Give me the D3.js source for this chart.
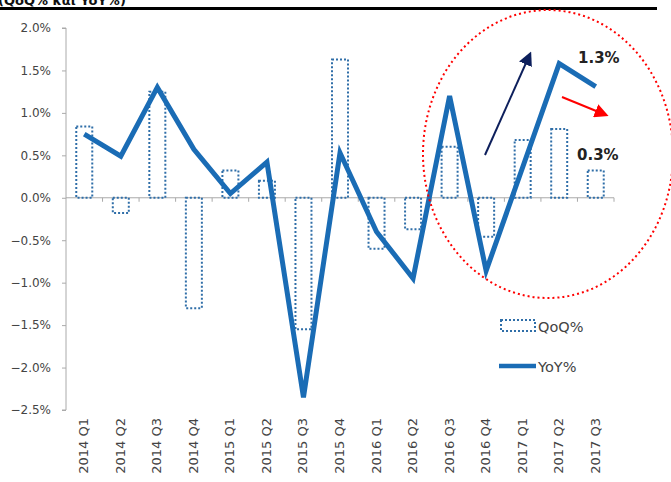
<!DOCTYPE html>
<html><head><meta charset="utf-8">
<script src="https://cdn.jsdelivr.net/npm/d3@7"></script>
<style>body{margin:0;background:#fff;} svg{display:block;}</style>
</head><body>
<svg id="c" width="671" height="482"></svg>
<script>
const categories = ["2014 Q1","2014 Q2","2014 Q3","2014 Q4","2015 Q1","2015 Q2","2015 Q3","2015 Q4","2016 Q1","2016 Q2","2016 Q3","2016 Q4","2017 Q1","2017 Q2","2017 Q3"];
const qoq = [0.84,-0.18,1.25,-1.3,0.32,0.2,-1.55,1.63,-0.6,-0.37,0.6,-0.46,0.68,0.81,0.32];
const yoy = [0.75,0.49,1.3,0.57,0.05,0.42,-2.35,0.53,-0.4,-0.95,1.2,-0.86,0.36,1.58,1.31];
const yTicks = [2.0,1.5,1.0,0.5,0.0,-0.5,-1.0,-1.5,-2.0,-2.5];
const seriesNames = ["QoQ%","YoY%"];
const callouts = ["1.3%","0.3%"];

const svg = d3.select("#c");
const font = "'DejaVu Sans', Verdana, sans-serif";
const x = d3.scaleBand().domain(categories).range([66,614]);
const y = d3.scaleLinear().domain([-2.5,2.0]).range([410,28]);

// title fragment & rule
svg.append("text").attr("x",-2).attr("y",5).attr("font-family",font).attr("font-weight","bold")
  .attr("font-size",13).attr("fill","#111").text("(QoQ% και YoY%)");
svg.append("rect").attr("x",0).attr("y",7).attr("width",657).attr("height",3).attr("fill","#000");

// y axis
const ya = svg.append("g").attr("transform","translate(66,0)")
  .call(d3.axisLeft(y).tickValues(yTicks).tickSize(4).tickFormat(d=>d3.format(".1f")(d)+"%"));
ya.select(".domain").attr("stroke","#aaa").attr("d","M-4,"+y(2.0)+"H0V"+y(-2.5)+"H-4");
ya.selectAll(".tick line").attr("stroke","#aaa");
ya.selectAll(".tick text").attr("font-family",font).attr("font-size",12).attr("fill","#444").attr("dx",-8);

// zero axis with ticks at band boundaries
svg.append("line").attr("x1",66).attr("x2",614).attr("y1",y(0)).attr("y2",y(0)).attr("stroke","#aaa");
categories.forEach((c,i)=>{
  const bx = x(c)+x.bandwidth();
  svg.append("line").attr("x1",bx).attr("x2",bx).attr("y1",y(0)).attr("y2",y(0)+4).attr("stroke","#aaa");
});

// x labels
categories.forEach(c=>{
  const cx = x(c)+x.bandwidth()/2;
  svg.append("text").attr("transform",`translate(${cx+4},418) rotate(-90)`)
    .attr("text-anchor","end").attr("font-family",font).attr("font-size",13).attr("fill","#444").text(c);
});

// bars
const bw = 16;
svg.append("g").selectAll("rect").data(qoq).join("rect")
  .attr("x",(d,i)=>x(categories[i])+x.bandwidth()/2-bw/2)
  .attr("y",d=>y(Math.max(0,d)))
  .attr("width",bw)
  .attr("height",d=>Math.abs(y(d)-y(0)))
  .attr("fill","none").attr("stroke","#2f6ea8").attr("stroke-width",2).attr("stroke-dasharray","2,2");

// line
const line = d3.line().x((d,i)=>x(categories[i])+x.bandwidth()/2).y(d=>y(d));
svg.append("path").datum(yoy).attr("d",line).attr("fill","none").attr("stroke","#1a6cb5")
  .attr("stroke-width",5).attr("stroke-linejoin","miter");

// ellipse
svg.append("ellipse").attr("cx",548).attr("cy",154).attr("rx",125).attr("ry",144)
  .attr("fill","none").attr("stroke","#f00").attr("stroke-width",2).attr("stroke-dasharray","2,3");

// arrows
const defs = svg.append("defs");
defs.append("marker").attr("id","an").attr("viewBox","0 0 10 10").attr("refX",8).attr("refY",5)
  .attr("markerWidth",7).attr("markerHeight",7).attr("orient","auto").attr("markerUnits","strokeWidth")
  .append("path").attr("d","M0,0L10,5L0,10z").attr("fill","#0d1f5c");
defs.append("marker").attr("id","ar").attr("viewBox","0 0 10 10").attr("refX",8).attr("refY",5)
  .attr("markerWidth",7).attr("markerHeight",7).attr("orient","auto").attr("markerUnits","strokeWidth")
  .append("path").attr("d","M0,0L10,5L0,10z").attr("fill","#f00");
svg.append("line").attr("x1",485).attr("y1",155).attr("x2",530).attr("y2",54)
  .attr("stroke","#0d1f5c").attr("stroke-width",2).attr("marker-end","url(#an)");
svg.append("line").attr("x1",562).attr("y1",97).attr("x2",606).attr("y2",115)
  .attr("stroke","#f00").attr("stroke-width",2).attr("marker-end","url(#ar)");

// callouts
svg.append("text").attr("x",578).attr("y",63).attr("font-family",font).attr("font-weight","bold")
  .attr("font-size",15).attr("fill","#222").text(callouts[0]);
svg.append("text").attr("x",577).attr("y",160).attr("font-family",font).attr("font-weight","bold")
  .attr("font-size",15).attr("fill","#222").text(callouts[1]);

// legend
svg.append("rect").attr("x",501).attr("y",320).attr("width",34).attr("height",11)
  .attr("fill","none").attr("stroke","#2f6ea8").attr("stroke-width",2).attr("stroke-dasharray","2,2");
svg.append("text").attr("x",538).attr("y",332).attr("font-family",font).attr("font-size",14.5).attr("fill","#444").text(seriesNames[0]);
svg.append("line").attr("x1",499).attr("x2",536).attr("y1",366).attr("y2",366).attr("stroke","#1a6cb5").attr("stroke-width",4.5);
svg.append("text").attr("x",538).attr("y",372).attr("font-family",font).attr("font-size",14.5).attr("fill","#444").text(seriesNames[1]);
</script>
</body></html>
